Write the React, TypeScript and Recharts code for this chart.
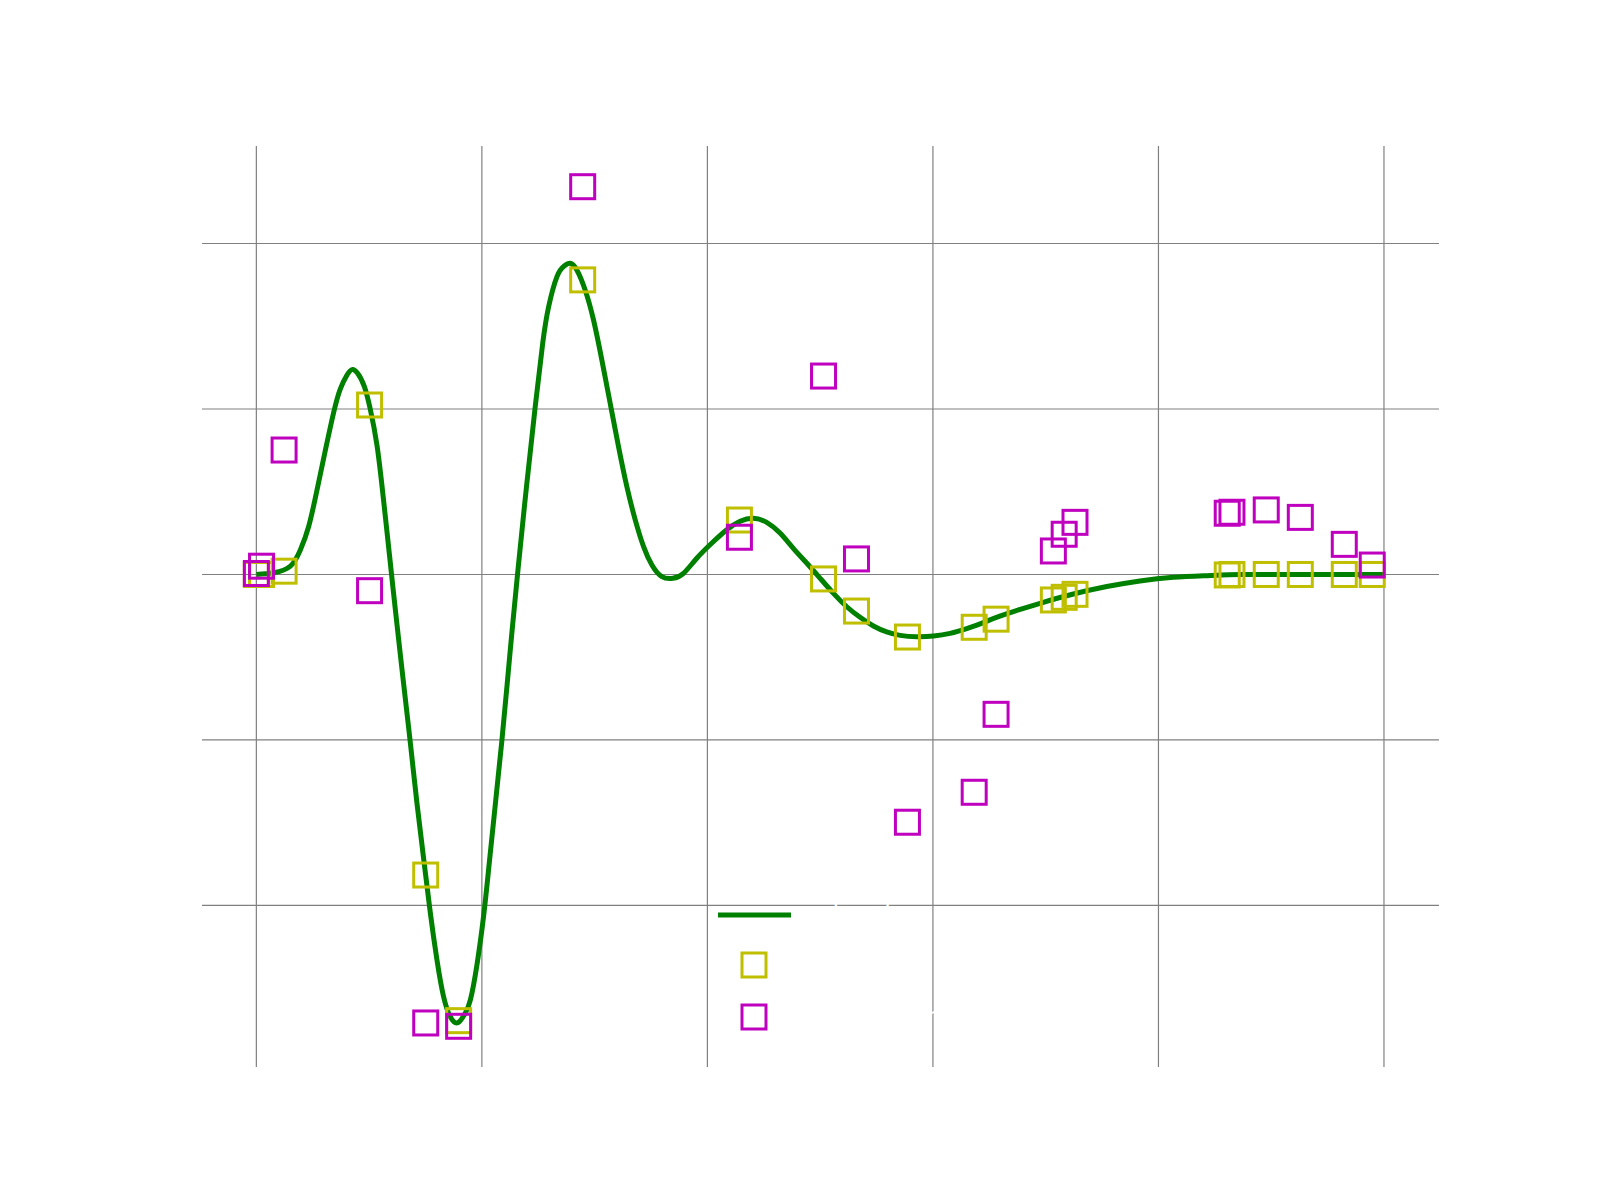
import {
  ComposedChart,
  Line,
  Scatter,
  XAxis,
  YAxis,
  CartesianGrid,
  Legend,
} from "recharts";

// underlying signal
const curveX = [
  0.0, 0.077, 0.151, 0.195, 0.232, 0.269, 0.306, 0.343, 0.372, 0.402, 0.424,
  0.449, 0.479, 0.505, 0.535, 0.564, 0.594, 0.621, 0.653, 0.683, 0.712, 0.742,
  0.771, 0.801, 0.83, 0.86, 0.894, 0.926, 0.949, 0.978, 1.008, 1.03, 1.055,
  1.089, 1.123, 1.158, 1.197, 1.237, 1.27, 1.296, 1.333, 1.365, 1.392, 1.421,
  1.458, 1.495, 1.532, 1.569, 1.606, 1.643, 1.68, 1.717, 1.754, 1.798, 1.847,
  1.894, 1.953, 2.02, 2.086, 2.145, 2.204, 2.263, 2.322, 2.381, 2.441, 2.5,
  2.559, 2.618, 2.677, 2.736, 2.795, 2.855, 2.929, 3.003, 3.076, 3.15, 3.224,
  3.3, 3.475, 3.623, 3.771, 3.918, 4.066, 4.214, 4.362, 4.5, 4.75, 5.0,
];
const curveY = [
  0.0, 0.01, 0.05, 0.148, 0.29, 0.51, 0.75, 0.98, 1.12, 1.205, 1.238, 1.216,
  1.135, 1.0, 0.78, 0.45, 0.07, -0.27, -0.66, -1.02, -1.38, -1.72, -2.04,
  -2.33, -2.55, -2.672, -2.708, -2.651, -2.571, -2.36, -2.06, -1.78, -1.45,
  -1.0, -0.5, 0.0, 0.52, 1.02, 1.4, 1.618, 1.8, 1.864, 1.88, 1.84, 1.719,
  1.538, 1.296, 1.034, 0.772, 0.53, 0.33, 0.168, 0.057, -0.013, -0.023, 0.007,
  0.098, 0.19, 0.27, 0.322, 0.34, 0.315, 0.25, 0.158, 0.068, -0.023, -0.114,
  -0.195, -0.259, -0.311, -0.347, -0.368, -0.376, -0.372, -0.356, -0.327,
  -0.291, -0.25, -0.174, -0.118, -0.073, -0.039, -0.017, -0.007, 0.0, 0.0, 0.0,
  0.0,
];

// sample positions, clean samples and noisy samples
const sampleX = [
  0.0, 0.023, 0.123, 0.502, 0.751, 0.897, 1.447, 2.142, 2.515, 2.661, 2.887,
  3.183, 3.28, 3.534, 3.582, 3.63, 4.305, 4.326, 4.478, 4.629, 4.824, 4.948,
];
const sampleClean = [
  0.0, 0.0, 0.02, 1.024, -1.816, -2.696, 1.78, 0.329, -0.027, -0.221, -0.378,
  -0.319, -0.27, -0.154, -0.138, -0.12, -0.003, 0.0, 0.0, 0.0, 0.0, 0.0,
];
const sampleNoisy = [
  0.006, 0.05, 0.752, -0.098, -2.71, -2.73, 2.343, 0.225, 1.199, 0.094,
  -1.497, -1.316, -0.845, 0.142, 0.243, 0.315, 0.37, 0.376, 0.39, 0.345,
  0.182, 0.057,
];

const xTicks = [0, 1, 2, 3, 4, 5];
const yTicks = [-2, -1, 0, 1, 2];
const xDomain = [-0.241, 5.244];
const yDomain = [-2.976, 2.589];
const seriesNames = ["signal", "samples", "noisy samples"];

const curve = curveX.map((x, i) => ({ x, y: curveY[i] }));
const clean = sampleX.map((x, i) => ({ x, y: sampleClean[i] }));
const noisy = sampleX.map((x, i) => ({ x, y: sampleNoisy[i] }));

const GREEN = "#008000";
const YELLOW = "#bfbf00";
const MAGENTA = "#bf00bf";

// use the axis scale when the grid gets one, otherwise map through the domain
function gridPos(axis: any, t: number, dom: number[], start: number, size: number, flip: boolean) {
  const s = axis && axis.scale;
  if (typeof s === "function") return s(t);
  if (s && typeof s.map === "function") return s.map(t);
  const f = (t - dom[0]) / (dom[1] - dom[0]);
  return flip ? start + size * (1 - f) : start + size * f;
}

function square(color: string) {
  return (props: any) => {
    const { cx, cy } = props;
    if (cx == null || cy == null) return <g />;
    return (
      <rect
        x={cx - 12}
        y={cy - 12}
        width={24}
        height={24}
        fill="none"
        stroke={color}
        strokeWidth={3}
      />
    );
  };
}

function LegendBox() {
  return (
    <svg width={560} height={160} style={{ display: "block" }}>
      <line x1={18} y1={35} x2={91} y2={35} stroke={GREEN} strokeWidth={5} />
      <rect x={42} y={73} width={24} height={24} fill="none" stroke={YELLOW} strokeWidth={3} />
      <rect x={42} y={125} width={24} height={24} fill="none" stroke={MAGENTA} strokeWidth={3} />
      {seriesNames.map((n, i) => (
        <text
          key={n}
          x={120}
          y={43 + i * 51}
          fill="#ffffff"
          fontSize={24}
          fontFamily="DejaVu Sans"
        >
          {n}
        </text>
      ))}
    </svg>
  );
}

export default function App() {
  return (
    <div style={{ position: "absolute", left: 0, top: 0, background: "#fff" }}>
      <ComposedChart
        width={1600}
        height={1200}
        margin={{ top: 146, right: 161, bottom: 93, left: 142 }}
      >
        <CartesianGrid
          stroke="#808080"
          strokeWidth={1.2}
          horizontalCoordinatesGenerator={({ yAxis, offset }: any) =>
            yTicks.map((t) => gridPos(yAxis, t, yDomain, offset.top, offset.height, true))
          }
          verticalCoordinatesGenerator={({ xAxis, offset }: any) =>
            xTicks.map((t) => gridPos(xAxis, t, xDomain, offset.left, offset.width, false))
          }
        />
        <XAxis
          type="number"
          dataKey="x"
          domain={xDomain}
          ticks={xTicks}
          allowDataOverflow
          axisLine={false}
          tickLine={false}
          height={40}
          tick={{ fill: "#ffffff", fontSize: 22, fontFamily: "DejaVu Sans" }}
        />
        <YAxis
          type="number"
          domain={yDomain}
          ticks={yTicks}
          allowDataOverflow
          axisLine={false}
          tickLine={false}
          width={60}
          tick={{ fill: "#ffffff", fontSize: 22, fontFamily: "DejaVu Sans" }}
        />
        <Line
          data={curve}
          dataKey="y"
          type="natural"
          stroke={GREEN}
          strokeWidth={5}
          dot={false}
          activeDot={false}
          isAnimationActive={false}
          name={seriesNames[0]}
        />
        <Scatter
          data={clean}
          dataKey="y"
          shape={square(YELLOW)}
          isAnimationActive={false}
          name={seriesNames[1]}
        />
        <Scatter
          data={noisy}
          dataKey="y"
          shape={square(MAGENTA)}
          isAnimationActive={false}
          name={seriesNames[2]}
        />
        <Legend
          layout="vertical"
          align="center"
          verticalAlign="middle"
          content={() => <LegendBox />}
          wrapperStyle={{ position: "absolute", left: 700, top: 880, width: 560, height: 160 }}
        />
      </ComposedChart>
    </div>
  );
}
